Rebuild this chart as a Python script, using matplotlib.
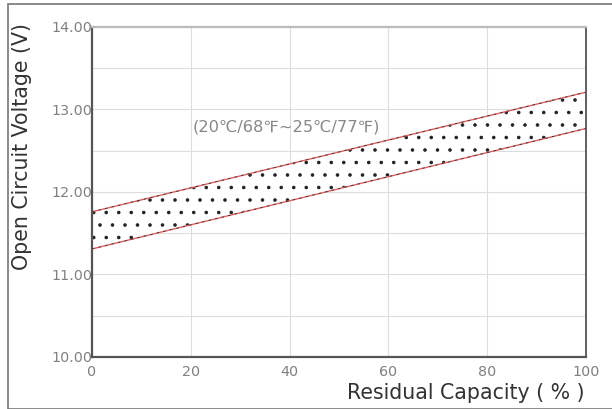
import matplotlib
matplotlib.use("Agg")
import matplotlib.pyplot as plt
from matplotlib.patches import Rectangle
import numpy as np

capacity = [0, 100]
upper_v = [11.76, 13.21]
lower_v = [11.31, 12.77]
x_ticks = [0, 20, 40, 60, 80, 100]
y_ticks = [10.0, 11.0, 12.0, 13.0, 14.0]
y_tick_labels = ["10.00", "11.00", "12.00", "13.00", "14.00"]
note = "(20℃/68℉~25℃/77℉)"

DPI = 75
S = 100 / DPI  # scale for sizes tuned at 100 dpi
W, H = 612, 409
plt.rcParams["hatch.linewidth"] = 1.0
fig = plt.figure(figsize=(W / DPI, H / DPI), dpi=DPI)
fig.patch.set_facecolor("white")
fig.patches.append(Rectangle((8 / W, 0), 1.2, (H - 4) / H, transform=fig.transFigure,
                             fill=False, edgecolor="#777777", linewidth=1.2 * S))

ax = fig.add_axes([92 / W, 1 - 357 / H, (586 - 92) / W, (357 - 27) / H])
ax.set_xlim(0, 100)
ax.set_ylim(10, 14)

ax.fill_between(capacity, lower_v, upper_v, facecolor="white", edgecolor="#222222",
                hatch=".", linewidth=0, zorder=2)
ax.plot(capacity, upper_v, color="#e06060", lw=1.0 * S, zorder=3)
ax.plot(capacity, lower_v, color="#e06060", lw=1.0 * S, zorder=3)
ax.plot(capacity, upper_v, color="#333333", lw=0.6 * S, ls=(0, (3, 5)), zorder=4)
ax.plot(capacity, lower_v, color="#333333", lw=0.6 * S, ls=(0, (3, 5)), zorder=4)

ax.set_xticks(x_ticks)
ax.set_yticks(y_ticks)
ax.set_yticklabels(y_tick_labels)
ax.set_yticks(np.arange(10.5, 14, 1.0), minor=True)
ax.grid(True, which="major", color="#dddddd", lw=0.8 * S, zorder=0)
ax.grid(True, which="minor", axis="y", color="#dddddd", lw=0.8 * S, zorder=0)
ax.tick_params(which="both", length=0, labelsize=10.3 * S, labelcolor="#808080", pad=0)
ax.tick_params(axis="x", pad=6 * S)

ax.spines["left"].set_color("#555555")
ax.spines["bottom"].set_color("#555555")
ax.spines["left"].set_linewidth(1.6 * S)
ax.spines["bottom"].set_linewidth(1.6 * S)
ax.spines["top"].set_color("#bbbbbb")
ax.spines["top"].set_linewidth(1.6 * S)
ax.spines["right"].set_color("#444444")
ax.spines["right"].set_linewidth(1.2 * S)

ax.text(20.3, 12.79, note, fontsize=11.7 * S, color="#888888", va="center", ha="left",
        family=["DejaVu Sans", "Noto Sans CJK SC"])

fig.text(22 / W, 1 - 146 / H, "Open Circuit Voltage (V)", rotation=90, fontsize=14.8 * S,
         color="#333333", ha="center", va="center")
fig.text(466 / W, 1 - 393 / H, "Residual Capacity ( % )", fontsize=14.8 * S,
         color="#333333", ha="center", va="center")

fig.savefig("out.png", dpi=DPI)
